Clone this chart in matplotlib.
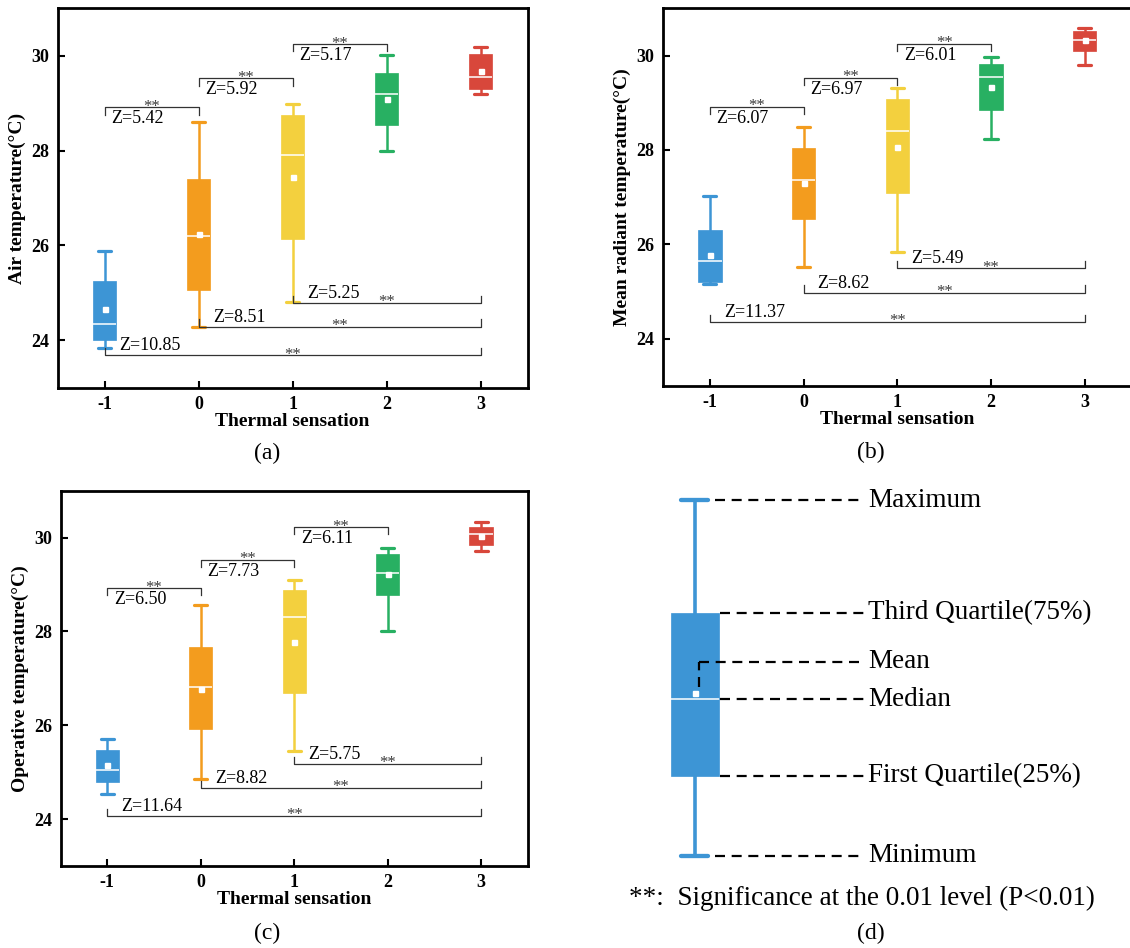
import matplotlib
matplotlib.use('Agg')
import matplotlib.pyplot as plt

plt.rcParams['font.family'] = ['Liberation Serif', 'DejaVu Serif']

W, H = 1130, 948

categories = [-1, 0, 1, 2, 3]
tick_labels = ['-1', '0', '1', '2', '3']
colors = ['#3D95D5', '#F39C1E', '#F3D03E', '#28B062', '#D8473B']

# (a) Air temperature
air_min = [23.83, 24.29, 24.80, 27.99, 29.19]
air_q1 = [24.01, 25.07, 26.13, 28.53, 29.30]
air_med = [24.35, 26.20, 27.91, 29.19, 29.56]
air_q3 = [25.26, 27.40, 28.74, 29.63, 30.03]
air_max = [25.88, 28.61, 28.98, 30.01, 30.18]
air_mean = [24.65, 26.24, 27.44, 29.09, 29.68]
air_top_y = [28.91, 29.52, 30.24]
air_top_z = ['5.42', '5.92', '5.17']
air_bot_y = [24.79, 24.29, 23.68]
air_bot_z = ['5.25', '8.51', '10.85']

# (b) Mean radiant temperature
mrt_min = [25.16, 25.53, 25.84, 28.23, 29.79]
mrt_q1 = [25.21, 26.53, 27.08, 28.84, 30.10]
mrt_med = [25.65, 27.36, 28.41, 29.55, 30.33]
mrt_q3 = [26.30, 28.05, 29.07, 29.83, 30.51]
mrt_max = [27.02, 28.49, 29.32, 29.96, 30.58]
mrt_mean = [25.77, 27.29, 28.07, 29.33, 30.32]
mrt_top_y = [28.91, 29.52, 30.24]
mrt_top_z = ['6.07', '6.97', '6.01']
mrt_bot_y = [25.49, 24.98, 24.36]
mrt_bot_z = ['5.49', '8.62', '11.37']

# (c) Operative temperature
op_min = [24.54, 24.85, 25.46, 28.01, 29.72]
op_q1 = [24.79, 25.93, 26.69, 28.78, 29.84]
op_med = [25.05, 26.81, 28.30, 29.24, 30.08]
op_q3 = [25.47, 27.66, 28.88, 29.66, 30.22]
op_max = [25.71, 28.56, 29.09, 29.77, 30.34]
op_mean = [25.16, 26.78, 27.78, 29.22, 30.04]
op_top_y = [28.92, 29.52, 30.22]
op_top_z = ['6.50', '7.73', '6.11']
op_bot_y = [25.18, 24.67, 24.07]
op_bot_z = ['5.75', '8.82', '11.64']

top_pairs = [(-1, 0), (0, 1), (1, 2)]
bot_pairs = [(1, 3), (0, 3), (-1, 3)]

fig = plt.figure(figsize=(W / 100, H / 100), dpi=100)


def rect(l, r, t, b):
    return [l / W, 1 - b / H, (r - l) / W, (b - t) / H]


def draw_boxes(ax, mins, q1s, meds, q3s, maxs, means, widths, capwidths, cols,
               positions, wlw=1.8):
    for i, pos in enumerate(positions):
        st = [dict(med=meds[i], q1=q1s[i], q3=q3s[i], whislo=mins[i],
                   whishi=maxs[i], mean=means[i], fliers=[])]
        c = cols[i]
        ax.bxp(st, positions=[pos], widths=widths, capwidths=capwidths,
               patch_artist=True, showmeans=True, manage_ticks=False,
               boxprops=dict(facecolor=c, edgecolor=c, linewidth=0.5),
               whiskerprops=dict(color=c, linewidth=wlw),
               capprops=dict(color=c, linewidth=wlw + 0.5, solid_capstyle='round'),
               medianprops=dict(color='white', linewidth=1.1),
               meanprops=dict(marker='s', markerfacecolor='white',
                              markeredgecolor='white', markersize=3.6))


def panel(r, ylabel, mins, q1s, meds, q3s, maxs, means,
          top_y, top_z, bot_y, bot_z):
    ax = fig.add_axes(r)
    draw_boxes(ax, mins, q1s, meds, q3s, maxs, means, 0.25, 0.14, colors,
               categories)
    lc = '#333333'
    for (x0, x1), y, z in zip(top_pairs, top_y, top_z):
        ax.plot([x0, x0, x1, x1], [y - 0.15, y, y, y - 0.15], color=lc, lw=0.9)
        ax.text(x0 + 0.07, y - 0.24, 'Z=' + z, ha='left', va='center',
                fontsize=13)
        ax.text((x0 + x1) / 2, y - 0.07, '**', ha='center', va='baseline',
                fontsize=12, color='#3a3a3a')
    for (x0, x1), y, z in zip(bot_pairs, bot_y, bot_z):
        ax.plot([x0, x0, x1, x1], [y + 0.15, y, y, y + 0.15], color=lc, lw=0.9)
        ax.text(x0 + 0.15, y + 0.2, 'Z=' + z, ha='left', va='center',
                fontsize=13)
        ax.text((x0 + x1) / 2, y - 0.07, '**', ha='center', va='baseline',
                fontsize=12, color='#3a3a3a')
    ax.set_xlim(-1.5, 3.5)
    ax.set_ylim(23, 31)
    ax.set_xticks(categories)
    ax.set_xticklabels(tick_labels)
    ax.set_yticks([24, 26, 28, 30])
    ax.tick_params(direction='in', length=5, width=1.5, top=False,
                   right=False, labelsize=13, pad=6)
    for lbl in ax.get_xticklabels() + ax.get_yticklabels():
        lbl.set_fontweight('bold')
    for s in ax.spines.values():
        s.set_linewidth(2)
    ax.set_xlabel('Thermal sensation', fontsize=14, fontweight='bold',
                  labelpad=0)
    ax.set_ylabel(ylabel, fontsize=14, fontweight='bold', labelpad=4)
    return ax


panel(rect(57.7, 527.5, 8.3, 387.7), 'Air temperature(°C)',
      air_min, air_q1, air_med, air_q3, air_max, air_mean,
      air_top_y, air_top_z, air_bot_y, air_bot_z)
panel(rect(663, 1131.5, 8.3, 386), 'Mean radiant temperature(°C)',
      mrt_min, mrt_q1, mrt_med, mrt_q3, mrt_max, mrt_mean,
      mrt_top_y, mrt_top_z, mrt_bot_y, mrt_bot_z)
panel(rect(60.5, 527.9, 490.7, 866), 'Operative temperature(°C)',
      op_min, op_q1, op_med, op_q3, op_max, op_mean,
      op_top_y, op_top_z, op_bot_y, op_bot_z)

# (d) legend schematic, in pixel coordinates of the figure
axd = fig.add_axes([0, 0, 1, 1], zorder=-1)
axd.set_xlim(0, W)
axd.set_ylim(H, 0)
axd.axis('off')
axd.patch.set_alpha(0)

legend_stats = dict(whislo=856, q1=776, med=699, q3=613, whishi=500, mean=693)
legend_x = 694.7
draw_boxes(axd, [legend_stats['whislo']], [legend_stats['q1']],
           [legend_stats['med']], [legend_stats['q3']],
           [legend_stats['whishi']], [legend_stats['mean']],
           48, 27, [colors[0]], [legend_x], wlw=2.6)

legend_labels = ['Maximum', 'Third Quartile(75%)', 'Mean', 'Median',
                 'First Quartile(25%)', 'Minimum']
legend_keys = ['whishi', 'q3', None, 'med', 'q1', 'whislo']
mean_label_y = 661.7
dash_kw = dict(color='black', lw=1.6, dashes=(4.5, 3))
for lab, key in zip(legend_labels, legend_keys):
    if key is None:
        yv = mean_label_y
        axd.plot([legend_x + 4.5, legend_x + 4.5], [legend_stats['mean'] - 6, yv],
                 **dash_kw)
        axd.plot([legend_x + 4.5, 864], [yv, yv], **dash_kw)
    else:
        yv = legend_stats[key]
        x0 = legend_x + 20 if key in ('whishi', 'whislo') else legend_x + 25
        axd.plot([x0, 864], [yv, yv], **dash_kw)
    axd.text(868, yv, lab, ha='left', va='center', fontsize=19.5)

fig.text(629 / W, 1 - 898 / H,
         '**:  Significance at the 0.01 level (P<0.01)',
         ha='left', va='center', fontsize=19.5)

for lab, (cx, cy) in zip(['(a)', '(b)', '(c)', '(d)'],
                         [(266.7, 453), (871.3, 452), (266.7, 933), (871.3, 933)]):
    fig.text(cx / W, 1 - cy / H, lab, ha='center', va='center', fontsize=17)

fig.savefig('out.png', dpi=100)
